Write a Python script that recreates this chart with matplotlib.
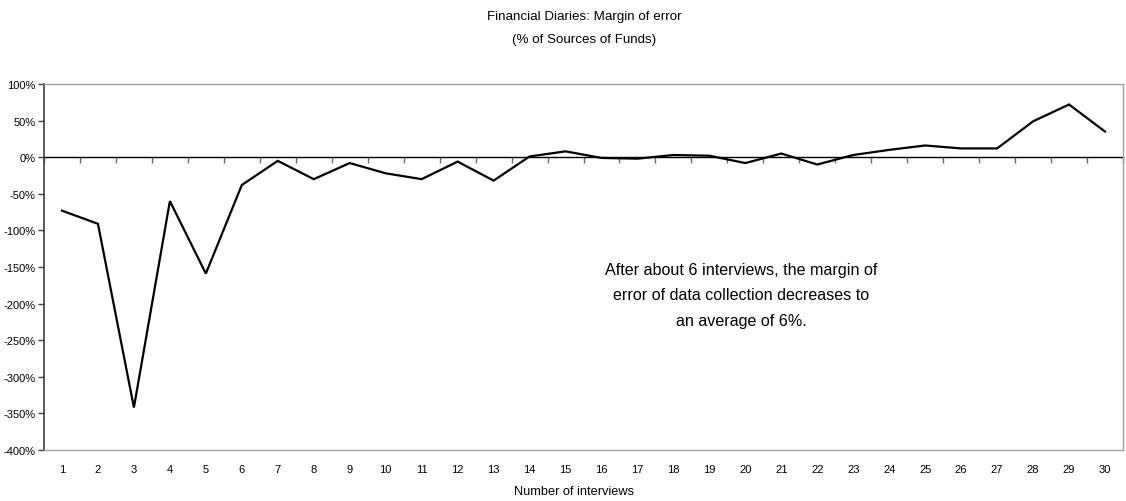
import matplotlib
matplotlib.use("Agg")
import matplotlib.pyplot as plt
from matplotlib.ticker import PercentFormatter, MultipleLocator, NullFormatter

plt.rcParams['font.family'] = ['Liberation Sans', 'DejaVu Sans']
plt.rcParams['axes.unicode_minus'] = False

interviews = list(range(1, 31))
margin_pct = [-73, -91, -342, -60, -159, -38, -5, -30, -8, -22, -30, -6, -32, 1, 8,
              -1, -2, 3, 2, -8, 5, -10, 3, 10, 16, 12, 12, 49, 72, 35]
title_lines = ["Financial Diaries: Margin of error", "(% of Sources of Funds)"]
x_label = "Number of interviews"
note = "After about 6 interviews, the margin of\nerror of data collection decreases to\nan average of 6%."

fig = plt.figure(figsize=(11.26, 5.02), dpi=100)
ax = fig.add_axes([44/1126, (502-451)/502, 1079/1126, 366/502])

ax.plot(interviews, margin_pct, color='black', lw=1.6, solid_joinstyle='miter')

ax.set_xlim(0.5, 30.5)
ax.set_ylim(-400, 100)
ax.yaxis.set_major_locator(MultipleLocator(50))
ax.yaxis.set_major_formatter(PercentFormatter(100, decimals=0))
ax.set_xticks(interviews)
ax.tick_params(axis='x', length=0, pad=10, labelsize=8)
ax.tick_params(axis='y', length=4, width=1, color='#404040', labelsize=8, pad=2)

for s in ['top', 'right', 'bottom']:
    ax.spines[s].set_color('#a0a0a0')
    ax.spines[s].set_linewidth(1)
ax.spines['left'].set_color('#404040')
ax.spines['left'].set_linewidth(1.2)

# zero axis with boundary ticks
y0, y1 = ax.get_ylim()
sec = ax.secondary_xaxis((0 - y0) / (y1 - y0))
sec.set_xticks([i + 0.5 for i in [0] + interviews])
sec.xaxis.set_major_formatter(NullFormatter())
sec.tick_params(axis='x', direction='in', length=4, width=1, color='#707070')
for s in sec.spines.values():
    s.set_color('black')
    s.set_linewidth(1)

fig.text(574/1126, 1 - 492/502, x_label, ha='center', va='center', fontsize=9.2)

fig.text(584/1126, 1 - 17/502, title_lines[0], ha='center', va='center', fontsize=9.6)
fig.text(584/1126, 1 - 40/502, title_lines[1], ha='center', va='center', fontsize=9.6)

ax.text(741/1126, 1 - 296/502, note, transform=fig.transFigure, ha='center', va='center',
        fontsize=11.6, linespacing=1.85, multialignment='center')

fig.savefig("out.png", dpi=100)
